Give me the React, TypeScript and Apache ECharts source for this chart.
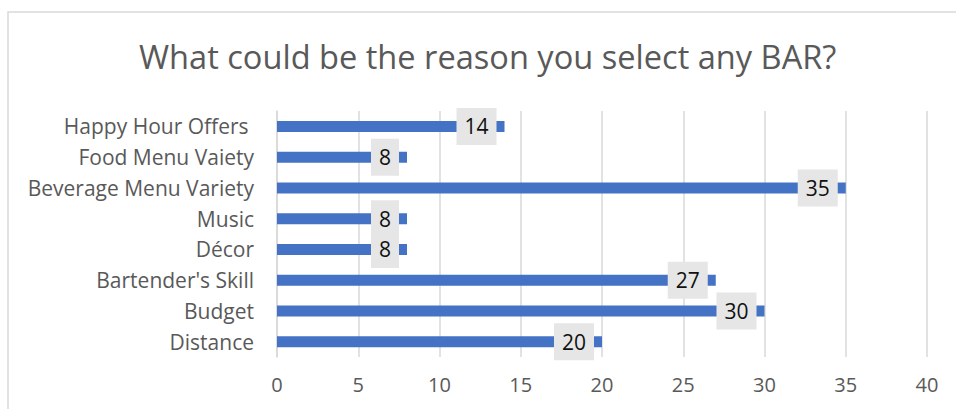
import React, { useEffect, useRef } from "react";
import * as echarts from "echarts";

const titleText = "What could be the reason you select any BAR?";
const categories = [
  "Happy Hour Offers ",
  "Food Menu Vaiety",
  "Beverage Menu Variety",
  "Music",
  "Décor",
  "Bartender's Skill",
  "Budget",
  "Distance",
];
const counts = [14, 8, 35, 8, 8, 27, 30, 20];
const axisMin = 0;
const axisMax = 40;
const axisStep = 5;

const FONT = "'Open Sans', 'Noto Sans', sans-serif";

export default function App() {
  const ref = useRef<HTMLDivElement>(null);

  useEffect(() => {
    if (!ref.current) return;
    const chart = echarts.init(ref.current, undefined, { renderer: "svg" });
    chart.setOption({
      animation: false,
      backgroundColor: "#ffffff",
      title: {
        text: titleText,
        left: 134,
        top: 35,
        textStyle: {
          fontFamily: FONT,
          fontSize: 32.6,
          fontWeight: "normal",
          color: "#595959",
        },
      },
      graphic: [
        {
          type: "rect",
          shape: { x: 8, y: 12, width: 1000, height: 500 },
          style: { fill: "none", stroke: "#d9d9d9", lineWidth: 1.5 },
          silent: true,
        },
      ],
      grid: { left: 277, right: 29, top: 111, bottom: 52 },
      xAxis: {
        type: "value",
        min: axisMin,
        max: axisMax,
        interval: axisStep,
        axisLine: { show: false },
        axisTick: { show: false },
        splitLine: { show: true, lineStyle: { color: "#d9d9d9", width: 1.5 } },
        axisLabel: {
          fontFamily: FONT,
          fontSize: 20,
          color: "#595959",
          margin: 17,
        },
      },
      yAxis: {
        type: "category",
        data: categories,
        inverse: true,
        axisLine: { show: true, lineStyle: { color: "#d9d9d9", width: 1.5 } },
        axisTick: { show: false },
        axisLabel: {
          fontFamily: FONT,
          fontSize: 21,
          color: "#595959",
          margin: 23,
        },
      },
      series: [
        {
          type: "bar",
          data: counts,
          barWidth: 11,
          itemStyle: { color: "#4472c4" },
          label: {
            show: true,
            position: "insideRight",
            distance: 8,
            fontFamily: FONT,
            fontSize: 21,
            color: "#111111",
            backgroundColor: "#e6e6e6",
            padding: [8, 8, 8, 8],
          },
        },
      ],
    });
    return () => chart.dispose();
  }, []);

  return (
    <div
      ref={ref}
      style={{ position: "fixed", left: 0, top: 0, width: 956, height: 409 }}
    />
  );
}
